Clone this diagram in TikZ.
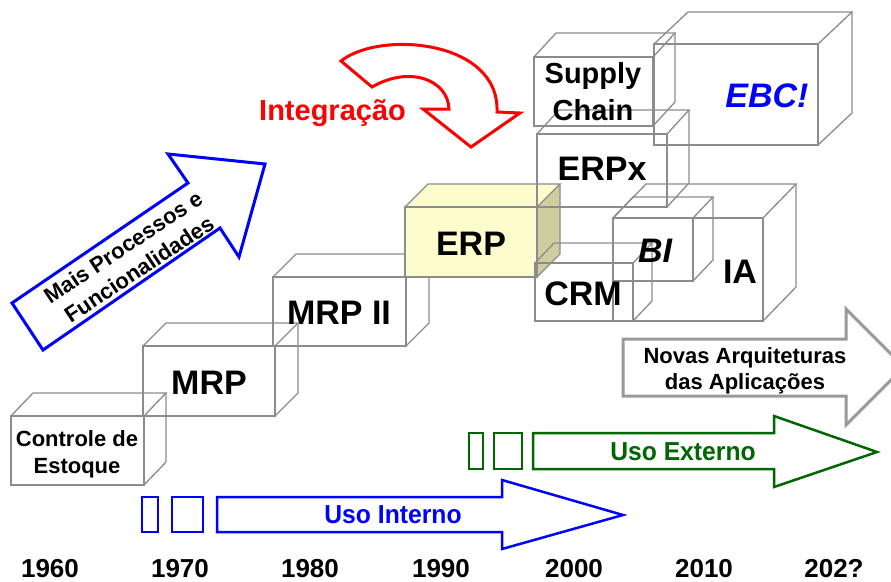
\documentclass[tikz,border=0pt]{standalone}
\usepackage{fontspec}
\setmainfont{Liberation Sans}
\definecolor{boxgray}{HTML}{8C8C8C}
\definecolor{arrowgray}{HTML}{999999}
\definecolor{erpfront}{HTML}{FCFCCC}
\definecolor{erpside}{HTML}{CDCDA0}
\definecolor{dkgreen}{HTML}{006600}
\newcommand\cubebox[7]{%
  \draw[boxline,#1] (#2,#3) rectangle (#4,#5);
  \draw[boxline,#1] (#2,#3) -- ({#2+#6},{#3-#7}) -- ({#4+#6},{#3-#7}) -- (#4,#3);
  \draw[boxline,#1] ({#4+#6},{#3-#7}) -- ({#4+#6},{#5-#7}) -- (#4,#5);
}
\tikzset{
  boxline/.style={draw=boxgray, line width=1.3pt, line join=miter},
  lbl/.style={font=\bfseries\fontsize{34}{38}\selectfont, inner sep=0pt, anchor=base},
  mid/.style={font=\bfseries\fontsize{29}{33}\selectfont, inner sep=0pt, anchor=base},
  small/.style={font=\bfseries\fontsize{22}{25}\selectfont, inner sep=0pt, anchor=base},
  year/.style={font=\bfseries\fontsize{26}{29}\selectfont, inner sep=0pt, anchor=base},
  usetxt/.style={font=\bfseries\fontsize{26}{29}\selectfont, inner sep=0pt, anchor=base, xscale=0.95},
  blockarrow/.style={line width=3pt, line join=miter, fill=white},
}
\begin{document}
\begin{tikzpicture}[x=1pt, y=-1pt]
\clip (0,0) rectangle (891,581);
\fill[white] (0,0) rectangle (891,581);

% ---- cubes ----
\cubebox{}{11}{416}{144}{485}{22}{23}
\cubebox{}{143}{346}{275}{416}{23}{23}
\cubebox{}{273}{277}{406}{346}{23}{23}
% ERP (filled)
\fill[erpfront] (405,207) rectangle (537,277);
\fill[erpfront] (405,207) -- (428,184) -- (560,184) -- (537,207) -- cycle;
\fill[erpside] (537,207) -- (560,184) -- (560,253) -- (537,277) -- cycle;
\cubebox{}{405}{207}{537}{277}{23}{23}
\cubebox{}{534}{57}{653}{126}{22}{24}
\cubebox{}{654}{44}{818}{145}{34}{32}
\cubebox{}{537}{134}{667}{207}{22}{24}
\cubebox{}{535}{263}{633}{321}{19}{20}
\cubebox{}{613}{218}{693}{281}{20}{21}
\cubebox{}{613}{218}{763}{321}{33}{34}

% ---- cube labels ----
\node[small] (ce1) at (77,446) {Controle de};
\node[small] (ce2) at (77,473) {Estoque};
\node[lbl] (mrp) at (209,394) {MRP};
\node[lbl] (mrp2) at (339,324) {MRP II};
\node[lbl] (erp) at (471,255) {ERP};
\node[mid] (sc1) at (593,83) {Supply};
\node[mid] (sc2) at (593,120) {Chain};
\node[lbl, text=blue, font=\bfseries\itshape\fontsize{34}{38}\selectfont] (ebc) at (767,107) {EBC!};
\node[lbl] (erpx) at (602,180) {ERPx};
\node[lbl] (crm) at (583,305) {CRM};
\node[lbl, font=\bfseries\itshape\fontsize{34}{38}\selectfont] (bi) at (655,262) {BI};
\node[lbl] (ia) at (740,283) {IA};

% ---- Mais Processos arrow ----
\draw[blockarrow, draw=blue] (12,303) -- (188,183) -- (168,154) -- (265,164) -- (239,257) -- (220,228) -- (43,350) -- cycle;
\node[small, anchor=center, rotate=33.5] (mp1) at (123,247) {Mais Processos e};
\node[small, anchor=center, rotate=33.5] (mp2) at (139,269) {Funcionalidades};

% ---- Integracao arrow ----
\draw[line width=3pt, draw=red, line join=miter, fill=white]
  (341,61) .. controls (380,30) and (500,40) .. (497,112) -- (520,113) -- (471,147) -- (423,109) -- (449,109)
  .. controls (448,80) and (410,65) .. (372,87) -- cycle;
\node[mid, anchor=base west, text=red] (integ) at (259,120) {Integração};

% ---- Novas Arquiteturas arrow ----
\draw[blockarrow, draw=arrowgray] (623,339) -- (846,339) -- (846,309) -- (904,367) -- (846,425) -- (846,396) -- (623,396) -- cycle;
\node[small] (na1) at (745,363) {Novas Arquiteturas};
\node[small] (na2) at (745,389) {das Aplicações};

% ---- Uso Externo ----
\draw[line width=2.5pt, draw=dkgreen] (469,433) rectangle (483,469);
\draw[line width=2.5pt, draw=dkgreen] (494,433) rectangle (522,469);
\draw[line width=2.5pt, draw=dkgreen, line join=miter, fill=white] (533,433) -- (774,433) -- (774,416) -- (877,452) -- (774,487) -- (774,469) -- (533,469) -- cycle;
\node[usetxt, text=dkgreen] (ue) at (683,460) {Uso Externo};

% ---- Uso Interno ----
\draw[line width=2.5pt, draw=blue] (142,497) rectangle (158,532);
\draw[line width=2.5pt, draw=blue] (172,497) rectangle (203,532);
\draw[line width=2.5pt, draw=blue, line join=miter, fill=white] (217,497) -- (502,497) -- (502,480) -- (623,515) -- (502,549) -- (502,532) -- (217,532) -- cycle;
\node[usetxt, text=blue] (ui) at (393,523) {Uso Interno};

% ---- years ----
\node[year] (y60) at (50,577) {1960};
\node[year] (y70) at (180,577) {1970};
\node[year] (y80) at (310,577) {1980};
\node[year] (y90) at (441,577) {1990};
\node[year] (y00) at (574,577) {2000};
\node[year] (y10) at (704,577) {2010};
\node[year] (y20) at (834,577) {202?};
\end{tikzpicture}
\end{document}
